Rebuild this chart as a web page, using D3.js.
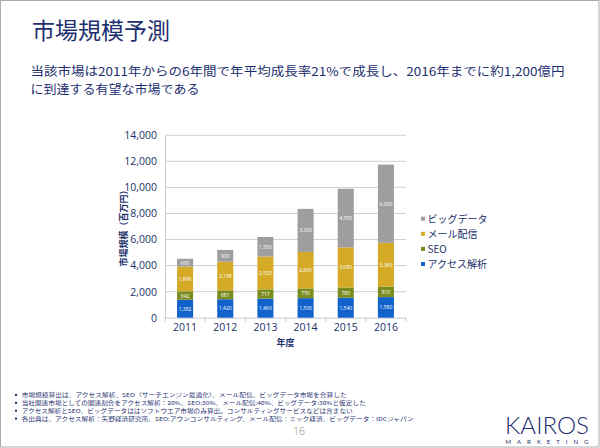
<!DOCTYPE html>
<html><head><meta charset="utf-8">
<script src="https://cdn.jsdelivr.net/npm/d3@7"></script>
<style>html,body{margin:0;padding:0;background:#fff;}svg{display:block;}</style>
</head><body>
<svg id="c" width="600" height="448"></svg>
<script>
const years = ["2011","2012","2013","2014","2015","2016"];
const seriesNames = ["アクセス解析","SEO","メール配信","ビッグデータ"];
const accessVals = [1382,1420,1460,1500,1540,1580];
const seoVals = [642,681,717,750,780,810];
const mailVals = [1899,2199,2520,2800,3080,3360];
const bigdataVals = [600,900,1500,3300,4500,6000];
const colors = ["#1262cc","#7a8c20","#d4aa26","#9e9e9e"];
const yTicks = [0,2000,4000,6000,8000,10000,12000,14000];
const titleText = "市場規模予測";
const subLines = ["当該市場は2011年からの6年間で年平均成長率21%で成長し、2016年までに約1,200億円","に到達する有望な市場である"];
const notes = ["市場規模算出は、アクセス解析、SEO（サーチエンジン最適化）、メール配信、ビッグデータ市場を合算した",
"当社関連市場としての関連割合をアクセス解析：20%、SEO:30%、メール配信:40%、ビッグデータ:30%と仮定した",
"アクセス解析とSEO、ビッグデータははソフトウエア市場のみ算出。コンサルティングサービスなどは含まない",
"各出典は、アクセス解析：矢野経済研究所、SEO:アウンコンサルティング、メール配信：ミック経済、ビッグデータ：IDCジャパン"];

const navy = "#1d2f6f";
const jp = "'Noto Sans CJK JP','Noto Sans',sans-serif";
const svg = d3.select("#c");

svg.append("rect").attr("x",0.5).attr("y",0.5).attr("width",598.5).attr("height",446.5)
  .attr("fill","#fff").attr("stroke","#aaaaaa");

svg.append("text").attr("x",32).attr("y",39).attr("font-family",jp).attr("font-size",23)
  .attr("fill",navy).text(titleText);
const subW = [534,169];
subLines.forEach((t,i)=>{
  svg.append("text").attr("x",30.5).attr("y",76+i*17.6).attr("font-family",jp).attr("font-size",12)
    .attr("fill",navy).attr("textLength",subW[i]).attr("lengthAdjust","spacingAndGlyphs").text(t);
});

// chart
const x = d3.scaleBand().domain(years).range([165,406]).paddingInner(0.6).paddingOuter(0.3);
const y = d3.scaleLinear().domain([0,14000]).range([317.7,135.3]);

const g = svg.append("g");
g.selectAll("line.grid").data(yTicks.slice(1)).join("line").attr("class","grid")
  .attr("x1",165).attr("x2",406).attr("y1",d=>y(d)).attr("y2",d=>y(d))
  .attr("stroke","#cfcfdc").attr("stroke-width",1);

const yAxis = d3.axisLeft(y).tickValues(yTicks).tickFormat(d3.format(",")).tickSize(0).tickPadding(8);
const ya = g.append("g").attr("transform","translate(165,0)").call(yAxis);
ya.select(".domain").attr("stroke","#c8c8d4");
ya.selectAll("text").attr("font-family","'Open Sans','Noto Sans',sans-serif").attr("font-size",10.5).attr("fill","#22306a");

const xAxis = d3.axisBottom(x).tickSize(0).tickPadding(6);
const xa = g.append("g").attr("transform","translate(0,317.7)").call(xAxis);
xa.select(".domain").attr("stroke","#c8c8d4");
xa.selectAll("text").attr("font-family","'Open Sans','Noto Sans',sans-serif").attr("font-size",10.5).attr("fill","#22306a");
const bounds = years.map(d=>x(d)-(x.step()-x.bandwidth())/2).concat([x(years[5])+x.bandwidth()+(x.step()-x.bandwidth())/2]);
g.selectAll("line.xt").data(bounds).join("line").attr("class","xt")
  .attr("x1",d=>d).attr("x2",d=>d).attr("y1",317.7).attr("y2",321.5).attr("stroke","#c8c8d4");

const table = years.map((yr,i)=>({year:yr, a:accessVals[i], s:seoVals[i], m:mailVals[i], b:bigdataVals[i]}));
const stack = d3.stack().keys(["a","s","m","b"])(table);
stack.forEach((layer,li)=>{
  const lg = g.append("g");
  lg.selectAll("rect").data(layer).join("rect")
    .attr("x",d=>x(d.data.year)).attr("width",x.bandwidth())
    .attr("y",d=>y(d[1])).attr("height",d=>y(d[0])-y(d[1])).attr("fill",colors[li]);
  lg.selectAll("text").data(layer).join("text")
    .attr("x",d=>x(d.data.year)+x.bandwidth()/2).attr("y",d=>(y(d[0])+y(d[1]))/2+2)
    .attr("text-anchor","middle").attr("font-family","'Open Sans','Noto Sans',sans-serif")
    .attr("font-size",5).attr("fill","#fff").text(d=>d3.format(",")(d[1]-d[0]));
});

svg.append("text").attr("transform","translate(127,226) rotate(-90)").attr("text-anchor","middle")
  .attr("font-family",jp).attr("font-size",9).attr("font-weight","bold").attr("fill","#22306a").text("市場規模（百万円）");
svg.append("text").attr("x",285.5).attr("y",345.5).attr("text-anchor","middle")
  .attr("font-family",jp).attr("font-size",9).attr("font-weight","bold").attr("fill","#22306a").text("年度");

// legend
const legOrder = [3,2,1,0];
legOrder.forEach((si,i)=>{
  const cy = 218.7 + i*15.1;
  svg.append("rect").attr("x",421).attr("y",cy-2).attr("width",4).attr("height",4).attr("fill",colors[si]);
  svg.append("text").attr("x",427.5).attr("y",cy+3.8).attr("font-family",jp).attr("font-size",10)
    .attr("fill","#22306a").text(seriesNames[si]);
});

// notes
const noteW = [325,344,331,392];
notes.forEach((t,i)=>{
  const yy = 397.4 + i*7.9;
  svg.append("rect").attr("x",15).attr("y",yy-3.5).attr("width",2).attr("height",2).attr("fill",navy);
  svg.append("text").attr("x",21.7).attr("y",yy).attr("font-family",jp).attr("font-size",5.4)
    .attr("fill",navy).attr("textLength",noteW[i]).attr("lengthAdjust","spacingAndGlyphs").text(t);
});
svg.append("text").attr("x",299).attr("y",435).attr("text-anchor","middle").attr("font-family","'Open Sans',sans-serif")
  .attr("font-size",10.5).attr("fill","#888").attr("font-weight",300).text("16");

svg.append("text").attr("x",505).attr("y",434.3).attr("font-family","Lato,'Open Sans',sans-serif")
  .attr("font-size",22.5).attr("font-weight",300).attr("fill",navy).attr("textLength",84).attr("lengthAdjust","spacingAndGlyphs").text("KAIROS");
svg.append("text").attr("x",505.5).attr("y",444).attr("font-family","Lato,'Open Sans',sans-serif")
  .attr("font-size",6).attr("fill",navy).attr("textLength",83).attr("lengthAdjust","spacing").text("MARKETING");
</script>
</body></html>
